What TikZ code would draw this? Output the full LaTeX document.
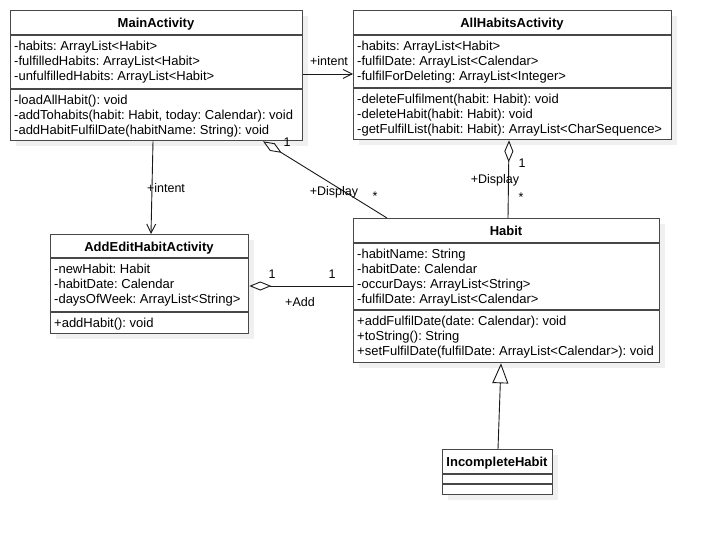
\documentclass[tikz,border=0pt]{standalone}
\usepackage{fontspec}
\setmainfont{Liberation Sans}
\usetikzlibrary{arrows.meta,shadows}
\definecolor{boxc}{RGB}{72,72,72}
\definecolor{shadowc}{RGB}{240,240,240}
\definecolor{linec}{RGB}{25,25,25}
\frenchspacing
\begin{document}
\begin{tikzpicture}[x=1pt,y=-1pt,
  classbox/.style={draw=boxc, line width=1.3pt, fill=white, inner sep=0pt, anchor=north west,
    drop shadow={shadow xshift=5pt, shadow yshift=-5pt, fill=shadowc, opacity=1}},
  sepline/.style={draw=boxc, line width=1.3pt},
  titletext/.style={anchor=base, inner sep=0pt, font=\bfseries\fontsize{13}{15}\selectfont},
  membtext/.style={anchor=north west, inner sep=0pt, align=left, font=\fontsize{13}{15}\selectfont},
  lbl/.style={inner sep=0pt, font=\fontsize{12.5}{15}\selectfont},
  assoc/.style={draw=linec, line width=0.9pt},
  openarrow/.style={-{Straight Barb[length=9pt,width=9pt,line width=0.9pt]}},
  aggr/.style={{Diamond[open,length=22pt,width=9pt,line width=0.9pt]}-},
  inherit/.style={-{Triangle[open,length=20pt,width=16pt,line width=0.9pt]}}
]
\useasboundingbox (0,0) rectangle (711,534);

% MainActivity
\node[classbox, minimum width=292pt, minimum height=130pt] (main) at (10,10) {};
\draw[sepline] (main.west |- 0,35) -- (main.east |- 0,35);
\draw[sepline] (main.west |- 0,89) -- (main.east |- 0,89);
\node[titletext] (main-t) at (156,27.5) {MainActivity};
\node[membtext] (main-a) at (14,39.5) {\strut-habits: ArrayList<Habit>\\-fulfilledHabits: ArrayList<Habit>\\-unfulfilledHabits: ArrayList<Habit>};
\node[membtext] (main-m) at (14,93.5) {\strut-loadAllHabit(): void\\-addTohabits(habit: Habit, today: Calendar): void\\-addHabitFulfilDate(habitName: String): void};

% AllHabitsActivity
\node[classbox, minimum width=318pt, minimum height=129pt] (allh) at (353,10) {};
\draw[sepline] (allh.west |- 0,35) -- (allh.east |- 0,35);
\draw[sepline] (allh.west |- 0,88) -- (allh.east |- 0,88);
\node[titletext] (allh-t) at (512,27.5) {AllHabitsActivity};
\node[membtext] (allh-a) at (357,39.5) {\strut-habits: ArrayList<Habit>\\-fulfilDate: ArrayList<Calendar>\\-fulfilForDeleting: ArrayList<Integer>};
\node[membtext] (allh-m) at (357,92.5) {\strut-deleteFulfilment(habit: Habit): void\\-deleteHabit(habit: Habit): void\\-getFulfilList(habit: Habit): ArrayList<CharSequence>};

% AddEditHabitActivity
\node[classbox, minimum width=198pt, minimum height=99pt] (addedit) at (50,234) {};
\draw[sepline] (addedit.west |- 0,258) -- (addedit.east |- 0,258);
\draw[sepline] (addedit.west |- 0,312) -- (addedit.east |- 0,312);
\node[titletext] (addedit-t) at (149,251.5) {AddEditHabitActivity};
\node[membtext] (addedit-a) at (54,262.5) {\strut-newHabit: Habit\\-habitDate: Calendar\\-daysOfWeek: ArrayList<String>};
\node[membtext] (addedit-m) at (54,316.5) {\strut+addHabit(): void};

% Habit
\node[classbox, minimum width=306pt, minimum height=144pt] (habit) at (353,218) {};
\draw[sepline] (habit.west |- 0,243) -- (habit.east |- 0,243);
\draw[sepline] (habit.west |- 0,310) -- (habit.east |- 0,310);
\node[titletext] (habit-t) at (506,235.5) {Habit};
\node[membtext] (habit-a) at (357,247.5) {\strut-habitName: String\\-habitDate: Calendar\\-occurDays: ArrayList<String>\\-fulfilDate: ArrayList<Calendar>};
\node[membtext] (habit-m) at (357,315) {\strut+addFulfilDate(date: Calendar): void\\+toString(): String\\+setFulfilDate(fulfilDate: ArrayList<Calendar>): void};

% IncompleteHabit
\node[classbox, minimum width=110pt, minimum height=45pt] (inc) at (442,449) {};
\draw[sepline] (inc.west |- 0,474) -- (inc.east |- 0,474);
\draw[sepline] (inc.west |- 0,484) -- (inc.east |- 0,484);
\node[titletext] (inc-t) at (497,466.5) {IncompleteHabit};

% Connectors
\draw[assoc, openarrow] (main.east |- 0,74) -- (allh.west |- 0,74);
\node[lbl] (l-intent1) at (329,61) {+intent};

\draw[assoc, openarrow] (153,0 |- main.south) -- (151,0 |- addedit.north);
\node[lbl] (l-intent2) at (166,188) {+intent};

\draw[assoc, aggr] (263,0 |- main.south) -- (387,0 |- habit.north);
\node[lbl] (l-m1) at (287,142) {1};
\node[lbl] (l-disp1) at (334,192) {+Display};
\node[lbl] (l-star1) at (375,196) {*};

\draw[assoc, aggr] (509,0 |- allh.south) -- (508,0 |- habit.north);
\node[lbl] (l-m2) at (522,163) {1};
\node[lbl] (l-disp2) at (495,180) {+Display};
\node[lbl] (l-star2) at (521,197) {*};

\draw[assoc, aggr] (addedit.east |- 0,286) -- (habit.west |- 0,286);
\node[lbl] (l-m3) at (272,274) {1};
\node[lbl] (l-m4) at (332,274) {1};
\node[lbl] (l-add) at (300,302) {+Add};

\draw[assoc, inherit] (498,0 |- inc.north) -- (501,0 |- habit.south);
\end{tikzpicture}
\end{document}
